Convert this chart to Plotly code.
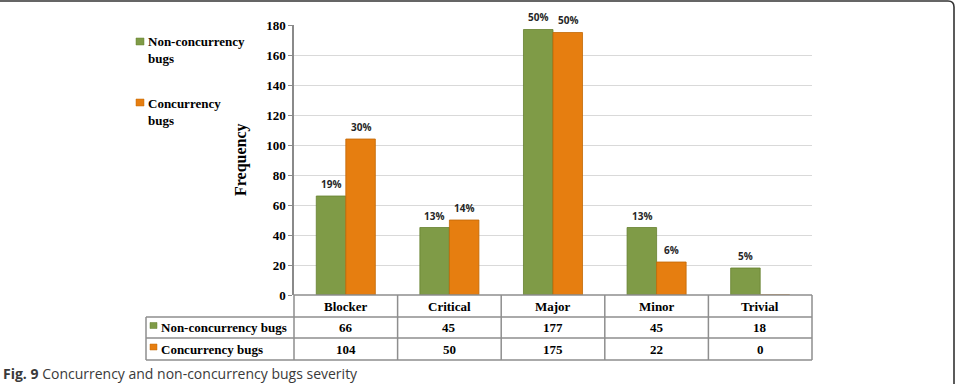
import plotly.graph_objects as go

# ---- data ----
categories = ["Blocker", "Critical", "Major", "Minor", "Trivial"]
series_names = ["Non-concurrency bugs", "Concurrency bugs"]
legend_labels = ["Non-concurrency<br>bugs", "Concurrency<br>bugs"]
non_conc = [66, 45, 177, 45, 18]
conc = [104, 50, 175, 22, 0]
non_conc_pct = ["19%", "13%", "50%", "13%", "5%"]
conc_pct = ["30%", "14%", "50%", "6%", ""]
y_ticks = [0, 20, 40, 60, 80, 100, 120, 140, 160, 180]
y_title = "Frequency"
caption_bold = "Fig. 9"
caption_rest = " Concurrency and non-concurrency bugs severity"

# ---- style ----
W, H = 960, 384
GREEN = "#7F9B47"
ORANGE = "#E67E10"
GREEN_EDGE = "#66802F"
ORANGE_EDGE = "#C26806"
SERIF = "Liberation Serif"
TABLE_LINE = "#8E8E8E"

def px(x):
    return x / W

def py(y):
    return 1 - y / H

PL, PR, PT, PB = 294, 812, 25, 295

values = [non_conc, conc]
pcts = [non_conc_pct, conc_pct]
colors = [GREEN, ORANGE]
edges = [GREEN_EDGE, ORANGE_EDGE]

fig = go.Figure()
for name, vals, c, e in zip(series_names, values, colors, edges):
    fig.add_trace(go.Bar(
        x=categories, y=vals, name=name,
        marker=dict(color=c, line=dict(color=e, width=0.8)),
        showlegend=False, hoverinfo="x+y+name", cliponaxis=False,
    ))

annotations = []
shapes = []

# percentage labels above bars
for k, (pct, vals) in enumerate(zip(pcts, values)):
    shift = -15 if k == 0 else 15
    for cat, v, t in zip(categories, vals, pct):
        if t:
            annotations.append(dict(
                x=cat, y=v, xref="x", yref="y", text=t, showarrow=False,
                xshift=shift, yshift=12, xanchor="center", yanchor="middle",
                font=dict(family="Open Sans", size=10, color="#262626", weight="bold"),
            ))

# y-axis title
annotations.append(dict(
    x=px(241), y=py(160), xref="paper", yref="paper", text=f"<b>{y_title}</b>",
    textangle=-90, showarrow=False, xanchor="center", yanchor="middle",
    font=dict(family=SERIF, size=16, color="#000000"),
))

# top-left legend
legend_mid = [50, 112]
legend_sq = [38, 99]
for k, (lab, ym, sq) in enumerate(zip(legend_labels, legend_mid, legend_sq)):
    shapes.append(dict(type="rect", xref="paper", yref="paper",
                       x0=px(136), x1=px(144), y0=py(sq), y1=py(sq + 7),
                       fillcolor=colors[k], line=dict(color=edges[k], width=0.5)))
    annotations.append(dict(
        x=px(146), y=py(ym), xref="paper", yref="paper", text=f"<b>{lab}</b>",
        xanchor="left", yanchor="middle", align="left", showarrow=False,
        font=dict(family=SERIF, size=13, color="#000000"),
    ))

# data table below the plot
row_mid = [306, 327.5, 349]
TL = 146  # left of label column
cat_w = (PR - PL) / len(categories)

shapes.append(dict(type="line", xref="paper", yref="paper", x0=px(PL), x1=px(PR),
                   y0=py(295), y1=py(295), line=dict(color=TABLE_LINE, width=1.5)))
for yy in [317, 338, 360]:
    shapes.append(dict(type="line", xref="paper", yref="paper", x0=px(TL), x1=px(PR),
                       y0=py(yy), y1=py(yy), line=dict(color=TABLE_LINE, width=1.5)))
shapes.append(dict(type="line", xref="paper", yref="paper", x0=px(TL), x1=px(TL),
                   y0=py(317), y1=py(360), line=dict(color=TABLE_LINE, width=1.5)))
for i in range(len(categories) + 1):
    xx = PL + i * cat_w
    shapes.append(dict(type="line", xref="paper", yref="paper", x0=px(xx), x1=px(xx),
                       y0=py(295), y1=py(360), line=dict(color=TABLE_LINE, width=1.5)))

for cat in categories:
    annotations.append(dict(
        x=cat, y=py(row_mid[0]), xref="x", yref="paper", text=f"<b>{cat}</b>",
        showarrow=False, xanchor="center", yanchor="middle",
        font=dict(family=SERIF, size=13, color="#000000"),
    ))
for k, (name, vals) in enumerate(zip(series_names, values)):
    ym = row_mid[k + 1]
    shapes.append(dict(type="rect", xref="paper", yref="paper",
                       x0=px(150), x1=px(157), y0=py(ym + 1), y1=py(ym - 5),
                       fillcolor=colors[k], line=dict(color=edges[k], width=0.5)))
    annotations.append(dict(
        x=px(159), y=py(ym), xref="paper", yref="paper", text=f"<b>{name}</b>",
        xanchor="left", yanchor="middle", showarrow=False,
        font=dict(family=SERIF, size=13, color="#000000"),
    ))
    for cat, v in zip(categories, vals):
        annotations.append(dict(
            x=cat, y=py(ym), xref="x", yref="paper", text=f"<b>{v}</b>",
            showarrow=False, xanchor="center", yanchor="middle",
            font=dict(family=SERIF, size=13, color="#000000"),
        ))

# caption
annotations.append(dict(
    x=px(2), y=py(384), xref="paper", yref="paper",
    text=f"<b>{caption_bold}</b>{caption_rest}",
    xanchor="left", yanchor="bottom", showarrow=False, borderpad=0,
    font=dict(family="Open Sans", size=14, color="#3A3A3A"),
))

# frame (top border with rounded right corner)
r = 6
frame_path = (f"M {px(0)},{py(1)} L {px(954 - r)},{py(1)} "
              f"Q {px(954)},{py(1)} {px(954)},{py(1 + r)} L {px(954)},{py(384)}")
shapes.append(dict(type="path", xref="paper", yref="paper", path=frame_path,
                   line=dict(color="#333333", width=1.6)))

fig.update_layout(
    template="none",
    width=W, height=H, autosize=False,
    margin=dict(l=0, r=0, t=0, b=0, pad=0, autoexpand=False),
    paper_bgcolor="white", plot_bgcolor="white",
    barmode="group", bargap=0.43, bargroupgap=0,
    xaxis=dict(domain=[px(PL), px(PR)], showticklabels=False, showgrid=False,
               zeroline=False, showline=False, ticks="", automargin=False),
    yaxis=dict(domain=[py(PB), py(PT)], range=[0, 180], tickvals=y_ticks,
               showgrid=True, gridcolor="#D9D9D9", gridwidth=1, automargin=False,
               zeroline=False, showline=True, linecolor="#8A8A8A", linewidth=1.5,
               ticks="outside", ticklen=4, tickcolor="#8A8A8A",
               tickfont=dict(family=SERIF, size=13, color="#000000", weight="bold")),
    annotations=annotations,
    shapes=shapes,
)

fig.write_html("out.html")
